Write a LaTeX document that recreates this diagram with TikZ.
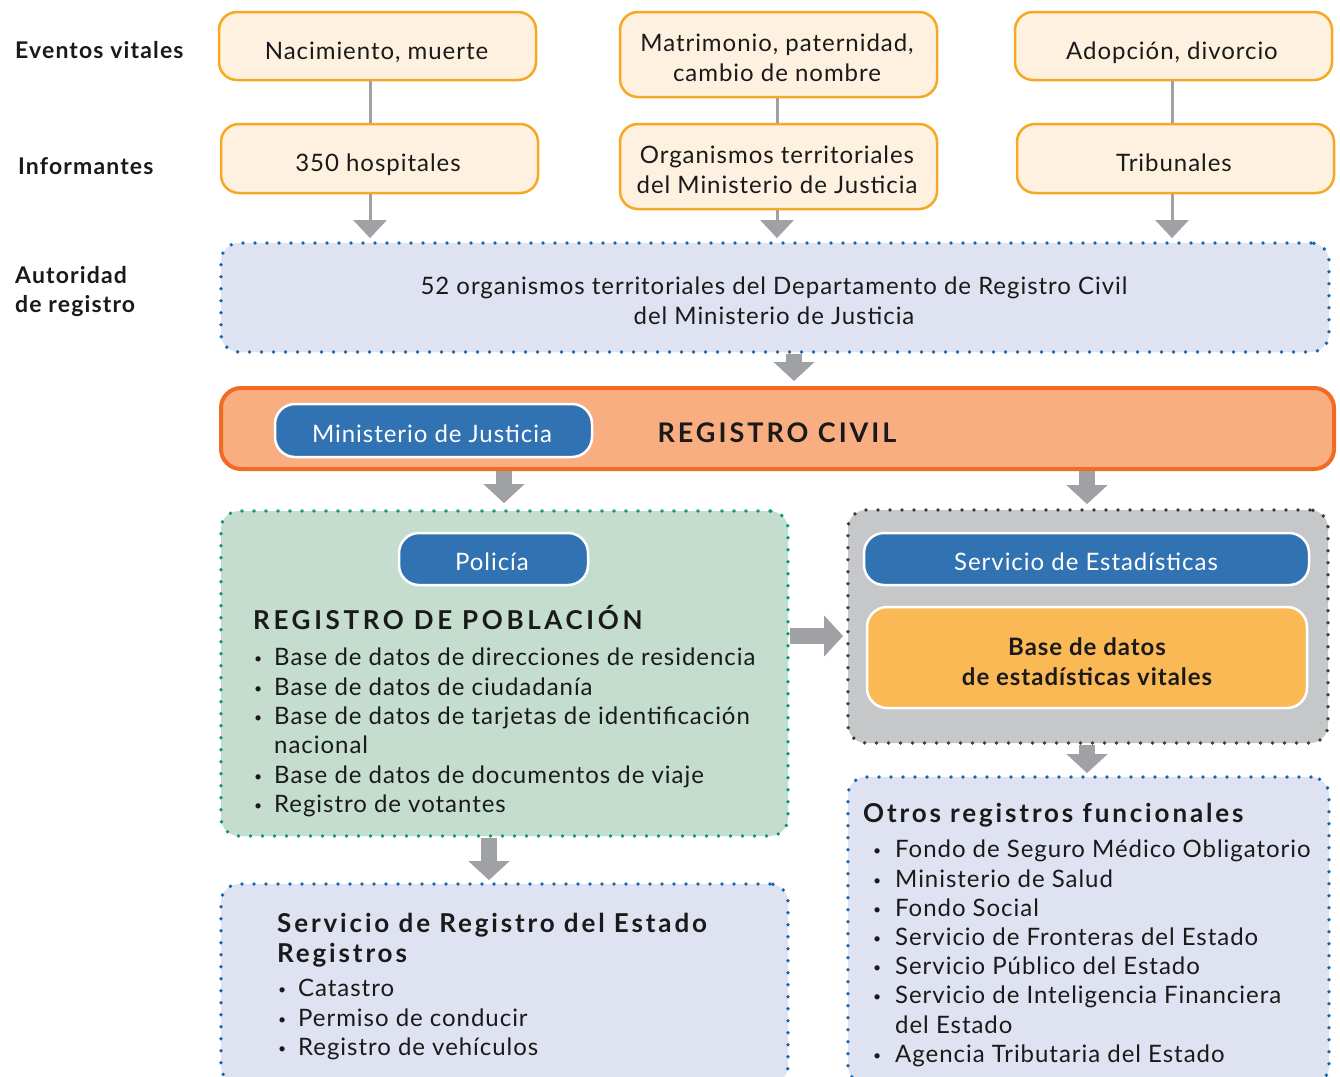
\documentclass[tikz,border=0pt]{standalone}
\usepackage{fontspec}
\setmainfont{Lato}[LetterSpace=4]
\usetikzlibrary{arrows.meta}
\definecolor{creamF}{HTML}{FEF1DF}
\definecolor{orangeB}{HTML}{F7A823}
\definecolor{connG}{HTML}{A0A1A5}
\definecolor{lblueF}{HTML}{DFE3F1}
\definecolor{blueDot}{HTML}{1565AF}
\definecolor{rcF}{HTML}{F9AE82}
\definecolor{rcB}{HTML}{F26A24}
\definecolor{pillB}{HTML}{3172B3}
\definecolor{greenF}{HTML}{C4DDCF}
\definecolor{greenDot}{HTML}{0A9A6A}
\definecolor{grayF}{HTML}{C6C7C9}
\definecolor{grayDot}{HTML}{3C3C3C}
\definecolor{dbF}{HTML}{FBB956}
\definecolor{txt}{HTML}{1A1A1A}
\newcommand\fsz[2]{\fontsize{#1}{#2}\selectfont}
\newcommand\bul[1]{\makebox[#1][l]{\raisebox{1.5pt}{\fsz{14}{14}•}}}
\begin{document}
\begin{tikzpicture}[x=1pt,y=-1pt,
  every node/.style={text=txt, inner sep=0pt},
  lbl/.style={font=\fsz{23}{29}\bfseries\addfontfeature{LetterSpace=5}, anchor=west, align=left},
  evbox/.style={draw=orangeB, line width=2.5pt, fill=creamF, rounded corners=18pt},
  bt/.style={font=\fsz{24}{30}, align=center},
  one/.style={text height=16pt, text depth=0pt},
  dotbox/.style={line width=3.8pt, dash pattern=on 0pt off 12pt, line cap=round, rounded corners=18pt},
  pill/.style={fill=pillB, draw=white, line width=2.5pt, rounded corners=20pt},
  conn/.style={draw=connG, line width=3pt},
  connarr/.style={draw=connG, line width=3pt, -{Triangle[width=33pt,length=18pt]}},
  blk/.style={draw=connG, line width=16pt, -{Triangle[width=40pt,length=19pt]}},
  li/.style={anchor=base west, font=\fsz{24}{30}},
  ttl/.style={anchor=base west, font=\fsz{26}{30}\bfseries\addfontfeature{LetterSpace=11}},
]
\useasboundingbox[fill=white] (0,0) rectangle (1340,1076);
\clip (0,0) rectangle (1340,1076);

% left labels
\node[lbl] (l1) at (15,50) {Eventos vitales};
\node[lbl] (l2) at (18,166) {Informantes};
\node[lbl] (l3) at (15,292) {Autoridad\\de registro};

% row 1
\node[evbox, minimum width=317pt, minimum height=68pt] (ev1) at (377.5,46) {};
\node[bt, one] (ev1t) at (376.5,51) {Nacimiento, muerte};
\node[evbox, minimum width=317pt, minimum height=85pt] (ev2) at (778.5,54.5) {};
\node[bt] (ev2t) at (777,58) {Matrimonio, paternidad,\\cambio de nombre};
\node[evbox, minimum width=317pt, minimum height=68pt] (ev3) at (1173.5,46) {};
\node[bt, one] (ev3t) at (1172,51) {Adopción, divorcio};
% row 2
\node[evbox, minimum width=317pt, minimum height=69pt] (inf1) at (379.5,158.5) {};
\node[bt, one] (inf1t) at (378,163) {350 hospitales};
\node[evbox, minimum width=317pt, minimum height=85pt] (inf2) at (778.5,166.5) {};
\node[bt] (inf2t) at (777,170) {Organismos territoriales\\del Ministerio de Justicia};
\node[evbox, minimum width=317pt, minimum height=69pt] (inf3) at (1175.5,158.5) {};
\node[bt, one] (inf3t) at (1174,163) {Tribunales};

% authority
\node[dotbox, draw=blueDot, fill=lblueF, minimum width=1108pt, minimum height=109pt] (auth) at (775,297.5) {};
\node[bt] (autht) at (774,301) {52 organismos territoriales del Departamento de Registro Civil\\del Ministerio de Justicia};

% registro civil
\node[draw=rcB, fill=rcF, line width=4pt, rounded corners=20pt, minimum width=1113pt, minimum height=81pt] (rc) at (777.5,428.5) {};
\node[pill, minimum width=317pt, minimum height=53pt] (mj) at (433.5,430.5) {};
\node[bt, one, text=white] (mjt) at (432,434) {Ministerio de Justicia};
\node[font=\fsz{27}{30}\bfseries\addfontfeature{LetterSpace=11}, text height=19pt, text depth=0pt] (rct) at (777,433) {REGISTRO CIVIL};

% poblacion box
\node[dotbox, draw=greenDot, fill=greenF, minimum width=567pt, minimum height=325pt] (pob) at (504.5,673.5) {};
\node[pill, minimum width=189pt, minimum height=52pt] (pol) at (493.5,559) {};
\node[bt, one, text=white] (polt) at (492,562) {Policía};
\node[ttl, font=\fsz{26}{30}\bfseries\addfontfeature{LetterSpace=14}] (pt) at (253,629) {REGISTRO DE POBLACIÓN};
\node[li] (p1) at (254,665) {\bul{20pt}Base de datos de direcciones de residencia};
\node[li] (p2) at (254,695) {\bul{20pt}Base de datos de ciudadanía};
\node[li] (p3) at (254,724) {\bul{20pt}Base de datos de tarjetas de identificación};
\node[li] (p4) at (274,753) {nacional};
\node[li] (p5) at (254,783) {\bul{20pt}Base de datos de documentos de viaje};
\node[li] (p6) at (254,812) {\bul{20pt}Registro de votantes};

% estadisticas box
\node[dotbox, draw=grayDot, fill=grayF, minimum width=480pt, minimum height=233pt] (est) at (1088,626.5) {};
\node[pill, minimum width=445pt, minimum height=52pt] (sest) at (1086.5,559) {};
\node[bt, one, text=white] (sestt) at (1086,562) {Servicio de Estadísticas};
\node[fill=dbF, draw=white, line width=2.5pt, rounded corners=20pt, minimum width=440pt, minimum height=101pt] (db) at (1087,657.5) {};
\node[bt, font=\fsz{24}{30}\bfseries] (dbt) at (1087,661.5) {Base de datos\\de estadísticas vitales};

% servicio de registro del estado
\node[dotbox, draw=blueDot, fill=lblueF, minimum width=567pt, minimum height=200pt] (sre) at (504.5,984) {};
\node[ttl] (st1) at (277,932) {Servicio de Registro del Estado};
\node[ttl] (st2) at (277,962) {Registros};
\node[li] (s1) at (278,996) {\bul{20pt}Catastro};
\node[li] (s2) at (278,1026) {\bul{20pt}Permiso de conducir};
\node[li] (s3) at (278,1055) {\bul{20pt}Registro de vehículos};

% otros registros
\node[dotbox, draw=blueDot, fill=lblueF, minimum width=481pt, minimum height=307pt] (oth) at (1088.5,930.5) {};
\node[ttl] (ot) at (863,822) {Otros registros funcionales};
\node[li] (o1) at (873,857) {\bul{22pt}Fondo de Seguro Médico Obligatorio};
\node[li] (o2) at (873,887) {\bul{22pt}Ministerio de Salud};
\node[li] (o3) at (873,916) {\bul{22pt}Fondo Social};
\node[li] (o4) at (873,945) {\bul{22pt}Servicio de Fronteras del Estado};
\node[li] (o5) at (873,974) {\bul{22pt}Servicio Público del Estado};
\node[li] (o6) at (873,1003) {\bul{22pt}Servicio de Inteligencia Financiera};
\node[li] (o7) at (895,1033) {del Estado};
\node[li] (o8) at (873,1062) {\bul{22pt}Agencia Tributaria del Estado};

% connectors
\draw[conn] ([xshift=-7.5pt]ev1.south) -- ([xshift=-9.5pt]inf1.north);
\draw[conn] ([xshift=-1.5pt]ev2.south) -- ([xshift=-1.5pt]inf2.north);
\draw[conn] ([xshift=-1.5pt]ev3.south) -- ([xshift=-3.5pt]inf3.north);
\draw[connarr] ([xshift=-9.5pt]inf1.south) -- ([xshift=-405pt,yshift=3pt]auth.north);
\draw[connarr] ([xshift=-1.5pt]inf2.south) -- ([xshift=2pt,yshift=3pt]auth.north);
\draw[connarr] ([xshift=-3.5pt]inf3.south) -- ([xshift=397pt,yshift=3pt]auth.north);
\draw[blk] ([xshift=19pt]auth.south) -- ([xshift=16.5pt,yshift=5pt]rc.north);
\draw[blk] ([xshift=-273.5pt]rc.south) -- ([xshift=-0.5pt,yshift=6pt]pob.north);
\draw[blk] ([xshift=309.5pt]rc.south) -- ([xshift=-1pt,yshift=4pt]est.north);
\draw[blk] ([yshift=37.5pt]pob.east) -- ([xshift=-3pt,yshift=-9.5pt]est.west);
\draw[blk] ([xshift=-15.5pt]pob.south) -- ([xshift=-15.5pt,yshift=2pt]sre.north);
\draw[blk] ([xshift=-1pt]est.south) -- ([xshift=-1.5pt,yshift=2pt]oth.north);
\end{tikzpicture}
\end{document}
